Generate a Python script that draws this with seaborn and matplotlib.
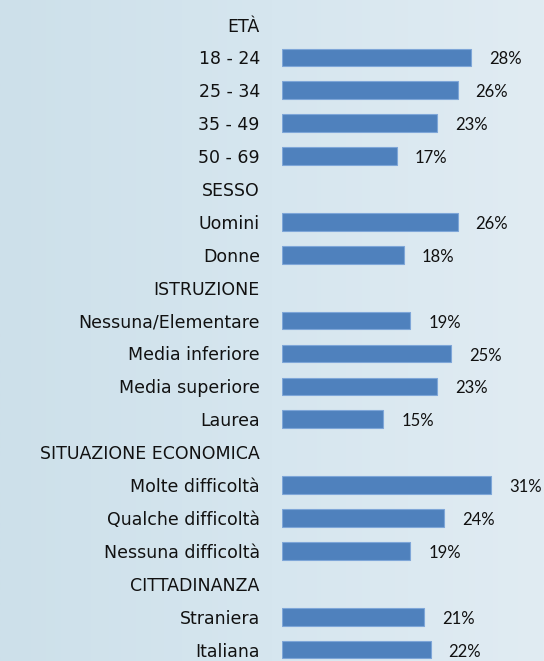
import numpy as np
import pandas as pd
import seaborn as sns
import matplotlib.pyplot as plt
from matplotlib.colors import LinearSegmentedColormap

# Righe del grafico (intestazioni di sezione senza barra)
righe = ["ETÀ", "18 - 24", "25 - 34", "35 - 49", "50 - 69",
         "SESSO", "Uomini", "Donne",
         "ISTRUZIONE", "Nessuna/Elementare", "Media inferiore", "Media superiore", "Laurea",
         "SITUAZIONE ECONOMICA", "Molte difficoltà", "Qualche difficoltà", "Nessuna difficoltà",
         "CITTADINANZA", "Straniera", "Italiana"]

categorie = ["18 - 24", "25 - 34", "35 - 49", "50 - 69",
             "Uomini", "Donne",
             "Nessuna/Elementare", "Media inferiore", "Media superiore", "Laurea",
             "Molte difficoltà", "Qualche difficoltà", "Nessuna difficoltà",
             "Straniera", "Italiana"]
valori = [28, 26, 23, 17, 26, 18, 19, 25, 23, 15, 31, 24, 19, 21, 22]

df = pd.DataFrame({"categoria": categorie, "valore": valori})

sns.set_style("white")
plt.rcParams["font.family"] = ["DejaVu Sans"]

W, H = 544, 661
fig = plt.figure(figsize=(W / 100, H / 100), dpi=100)

# Sfondo sfumato
bg = fig.add_axes([0, 0, 1, 1], zorder=-10)
grad = np.linspace(0, 1, 256).reshape(1, -1)
cmap_bg = LinearSegmentedColormap.from_list("bg", ["#cde0ea", "#d6e6ef", "#e1ecf3"])
bg.imshow(grad, aspect="auto", cmap=cmap_bg, extent=[0, 1, 0, 1])
bg.axis("off")

# Asse principale
x0 = 282
ax = fig.add_axes([x0 / W, 0, (W - x0) / W, 1])
ax.patch.set_alpha(0)

sns.barplot(data=df, y="categoria", x="valore", order=righe, orient="h",
            color="#4f81bd", width=0.54, saturation=1, ax=ax,
            edgecolor="#7ea6d8", linewidth=0.8)

px_per_unit = 6.75
ax.set_xlim(0, (W - x0) / px_per_unit)
passo = 32.9
y_top = 24.5
ax.set_ylim((H - y_top) / passo, -y_top / passo)

etichette = ax.bar_label(ax.containers[0], labels=[f"{v}%" for v in valori], padding=13,
                         fontsize=12, family=["Lato", "DejaVu Sans"], color="#111111")
for t in etichette:
    t.xyann = (13, -1.5)

for s in ax.spines.values():
    s.set_visible(False)
ax.set_xticks([])
ax.set_xlabel("")
ax.set_ylabel("")
ax.tick_params(axis="y", length=0, pad=16, labelsize=12.5, labelcolor="#111111")

fig.savefig("out.png", dpi=100)
